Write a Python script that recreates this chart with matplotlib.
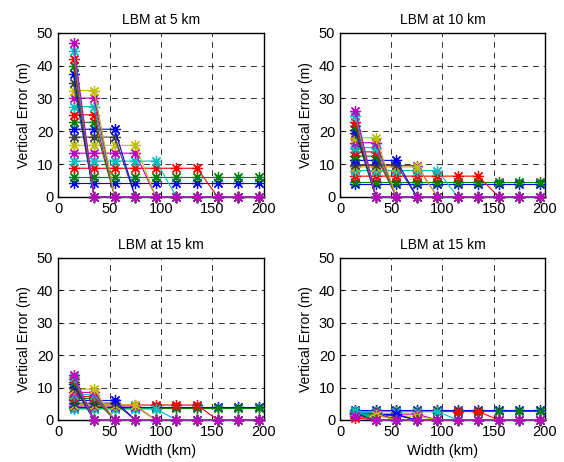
import numpy as np
import matplotlib
matplotlib.use("Agg")
import matplotlib.pyplot as plt

plt.rcParams['font.family'] = ['Liberation Sans', 'DejaVu Sans']

# Widths (km) where the error was evaluated
widths = [15, 35, 55, 75, 95, 115, 135, 155, 175, 195]

# Last width at which each series is still non-zero (same for every panel)
last_width = [195, 195, 135, 95, 75, 75, 55, 55, 35, 35,
              35, 35, 35, 15, 15, 15, 15, 15, 15]

# Error level of each series (m), one list per panel
levels_5km = [4.3, 6.1, 8.7, 10.9, 13.3, 15.7, 18.2, 20.6, 22.7, 25.0,
              27.5, 30.1, 32.4, 34.7, 37.4, 39.8, 42.0, 44.6, 46.9]
levels_10km = [3.9, 4.4, 6.3, 8.0, 9.5, 9.1, 9.8, 11.1, 12.4, 13.7,
               15.0, 16.5, 18.0, 19.4, 20.5, 21.5, 22.8, 24.5, 26.3]
levels_15km = [4.0, 3.7, 4.6, 3.4, 4.3, 4.6, 5.2, 6.0, 6.6, 7.2,
               7.8, 8.5, 9.5, 10.3, 11.0, 11.8, 12.5, 13.2, 14.0]
levels_15km_b = [3.2, 2.7, 2.6, 2.6, 1.8, 1.2, 1.4, 1.7, 1.9, 2.1,
                 2.3, 2.0, 1.5, 1.8, 2.2, 2.4, 0.6, 2.8, 1.3]

titles = ["LBM at 5 km", "LBM at 10 km", "LBM at 15 km", "LBM at 15 km"]
panels = [levels_5km, levels_10km, levels_15km, levels_15km_b]

# old MATLAB colour order
colors = [(0, 0, 1), (0, 0.5, 0), (1, 0, 0), (0, 0.75, 0.75),
          (0.75, 0, 0.75), (0.75, 0.75, 0), (0.25, 0.25, 0.25)]

fig = plt.figure(figsize=(5.64, 4.62), dpi=100)
boxes = [[0.103, 0.574, 0.365, 0.355], [0.603, 0.574, 0.363, 0.355],
         [0.103, 0.091, 0.365, 0.351], [0.603, 0.091, 0.363, 0.351]]

for p, (levels, title) in enumerate(zip(panels, titles)):
    ax = fig.add_axes(boxes[p])
    for i, (lev, cut) in enumerate(zip(levels, last_width)):
        y = [lev if w <= cut else 0 for w in widths]
        # MATLAB style asterisk marker
        ax.plot(widths, y, color=colors[i % 7], marker=(8, 2, 0), markersize=8,
                linewidth=0.8, markeredgewidth=0.9, clip_on=False, zorder=3)
    ax.set_xlim(0, 200)
    ax.set_ylim(0, 50)
    ax.set_xticks([0, 50, 100, 150, 200])
    ax.set_yticks([0, 10, 20, 30, 40, 50])
    ax.grid(True, color='#333333', linestyle=(0, (6, 5)), linewidth=0.7)
    ax.tick_params(direction='in', labelsize=10.5, length=3)
    for s in ax.spines.values():
        s.set_linewidth(1.0)
    ax.set_title(title, fontsize=10)
    ax.set_ylabel("Vertical Error (m)", fontsize=10)
    if p >= 2:
        ax.set_xlabel("Width (km)", fontsize=10.5)

fig.savefig("out.png", dpi=100)
